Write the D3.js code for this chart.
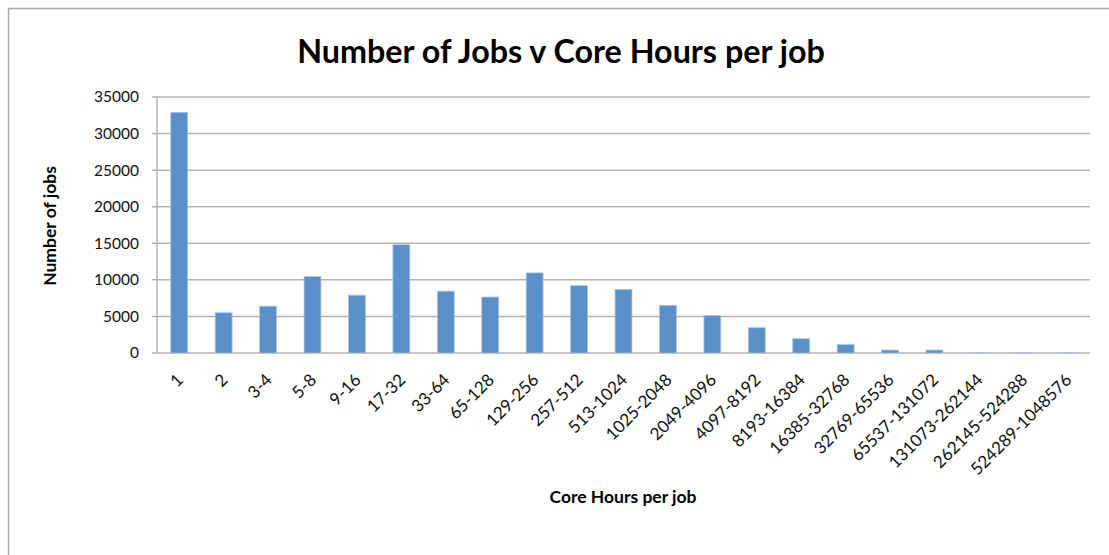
<!DOCTYPE html>
<html><head><meta charset="utf-8">
<script src="https://cdn.jsdelivr.net/npm/d3@7"></script>
<style>body{margin:0;background:#fff;} svg{display:block;font-family:Lato,"Open Sans",sans-serif;}</style>
</head><body>
<svg id="c" width="1109" height="555"></svg>
<script>
const categories = ["1","2","3-4","5-8","9-16","17-32","33-64","65-128","129-256","257-512","513-1024","1025-2048","2049-4096","4097-8192","8193-16384","16385-32768","32769-65536","65537-131072","131073-262144","262145-524288","524289-1048576"];
const jobs = [32900,5500,6400,10450,7900,14800,8450,7650,10950,9200,8700,6500,5100,3450,1950,1150,400,400,80,60,60];
const yTicks = [0,5000,10000,15000,20000,25000,30000,35000];

const svg = d3.select("#c");
const m = {l:157, r:1090, t:97, b:353};
svg.append("rect").attr("x",8.5).attr("y",8.5).attr("width",1120).attr("height",560)
  .attr("fill","none").attr("stroke","#a8a8a8").attr("stroke-width",1.5);

const x = d3.scaleBand().domain(categories).range([m.l,m.r]).paddingInner(0.62).paddingOuter(0.31);
const y = d3.scaleLinear().domain([0,35000]).range([m.b,m.t]);

// gridlines
svg.append("g").selectAll("line").data(yTicks).join("line")
  .attr("x1",m.l-5).attr("x2",m.r).attr("y1",d=>y(d)).attr("y2",d=>y(d))
  .attr("stroke","#b3b3b3").attr("stroke-width",1.5);
svg.append("line").attr("x1",m.l).attr("x2",m.l).attr("y1",m.t).attr("y2",m.b)
  .attr("stroke","#b3b3b3").attr("stroke-width",1.5);

// bars
svg.append("g").selectAll("rect").data(jobs).join("rect")
  .attr("x",(d,i)=>x(categories[i])).attr("width",x.bandwidth())
  .attr("y",d=>y(d)).attr("height",d=>m.b-y(d))
  .attr("fill","#5b8fc7").attr("stroke","#a9c4e3").attr("stroke-width",0.8);

// y labels
svg.append("g").selectAll("text").data(yTicks).join("text")
  .attr("x",139).attr("y",d=>y(d)).attr("dy","0.35em").attr("text-anchor","end")
  .attr("font-size",15.5).attr("fill","#111").text(d=>d);

// x labels
svg.append("g").selectAll("text").data(categories).join("text")
  .attr("text-anchor","end").attr("font-size",17).attr("fill","#111")
  .attr("transform",d=>`translate(${x(d)+x.bandwidth()/2+5},${m.b+28}) rotate(-45)`)
  .text(d=>d);

svg.append("text").attr("x",561).attr("y",63).attr("text-anchor","middle")
  .attr("font-size",32.3).attr("font-weight","bold").attr("fill","#000").text("Number of Jobs v Core Hours per job");
svg.append("text").attr("transform","translate(56,226) rotate(-90)").attr("text-anchor","middle")
  .attr("font-size",17.5).attr("font-weight","bold").attr("fill","#000").text("Number of jobs");
svg.append("text").attr("x",623).attr("y",503).attr("text-anchor","middle")
  .attr("font-size",17.5).attr("font-weight","bold").attr("fill","#000").text("Core Hours per job");
</script>
</body></html>
